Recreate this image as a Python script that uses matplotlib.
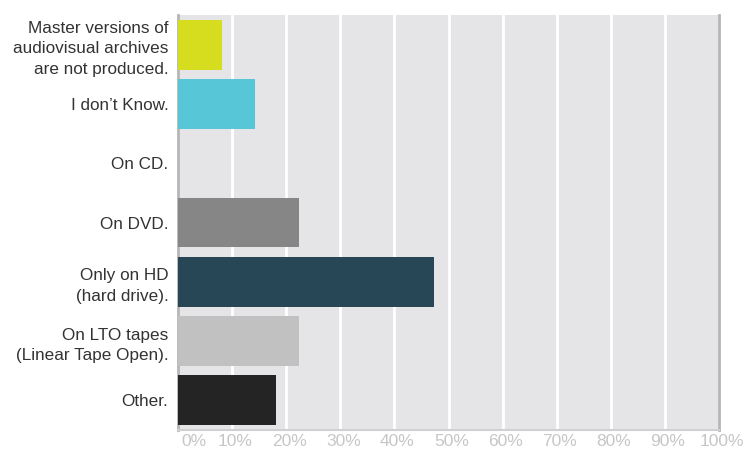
import matplotlib
matplotlib.use("Agg")
import matplotlib.pyplot as plt
from matplotlib.transforms import ScaledTranslation

categories = ["Master versions of\naudiovisual archives\nare not produced.",
              "I don\u2019t Know.",
              "On CD.",
              "On DVD.",
              "Only on HD\n(hard drive).",
              "On LTO tapes\n(Linear Tape Open).",
              "Other."]
values = [8.1, 14.2, 0.0, 22.4, 47.4, 22.4, 18.2]
colors = ["#d6dd1f", "#57c6d6", "#b0b0b0", "#858685", "#274756", "#c1c1c1", "#242424"]
xticks = [0, 10, 20, 30, 40, 50, 60, 70, 80, 90, 100]
xticklabels = [f"{t}%" for t in xticks]

plt.rcParams['font.family'] = ['Liberation Sans', 'DejaVu Sans']
fig = plt.figure(figsize=(7.44, 4.5), dpi=100)
ax = fig.add_axes([178/744, 1-430/450, (719-178)/744, (430-15)/450])
ax.set_facecolor("#e5e5e7")
y = list(range(len(categories)))
ax.barh(y, values, height=0.84, color=colors, zorder=3)
ax.set_ylim(len(categories)-0.5, -0.5)
ax.set_xlim(0, 100)
ax.set_xticks(xticks)
ax.set_xticklabels(xticklabels, color="#c6c6c6", fontsize=12.5)
ax.set_yticks(y)
ax.set_yticklabels(categories, color="#333333", fontsize=12.3, linespacing=1.45)
ax.tick_params(axis='both', length=0)
ax.tick_params(axis='y', pad=7)
ax.tick_params(axis='x', pad=3)
shift = ScaledTranslation(3/100, 0, fig.dpi_scale_trans)
for i, lab in enumerate(ax.get_xticklabels()):
    lab.set_transform(lab.get_transform() + shift)
    if i == 0:
        lab.set_ha('left')
ax.grid(axis='x', color="white", linewidth=2, zorder=1)
ax.spines["top"].set_visible(False)
ax.spines["left"].set_color("#b5b5b5")
ax.spines["left"].set_linewidth(2)
ax.spines["bottom"].set_color("#d0d0d0")
ax.spines["bottom"].set_linewidth(1.5)
ax.spines["right"].set_color("#b5b5b5")
ax.spines["right"].set_linewidth(2)
fig.savefig("out.png", dpi=100)
